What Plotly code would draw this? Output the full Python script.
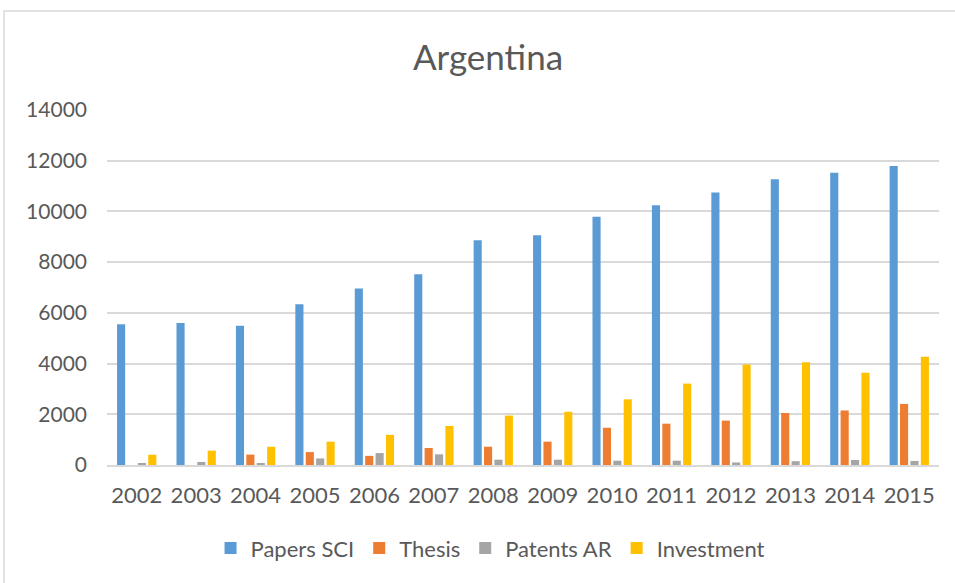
import plotly.graph_objects as go

# Argentina: scientific output, theses, patents and investment per year
years = ["2002", "2003", "2004", "2005", "2006", "2007", "2008",
         "2009", "2010", "2011", "2012", "2013", "2014", "2015"]
papers_sci = [5550, 5600, 5490, 6340, 6960, 7520, 8860,
              9060, 9790, 10240, 10750, 11270, 11530, 11790]
thesis = [0, 0, 410, 510, 360, 670, 720,
          920, 1470, 1630, 1750, 2050, 2150, 2410]
patents_ar = [65, 120, 65, 260, 470, 420, 210,
              210, 170, 170, 100, 150, 200, 160]
investment = [405, 565, 720, 920, 1190, 1540, 1950,
              2100, 2590, 3210, 3960, 4050, 3640, 4270]

series = [
    ("Papers SCI", papers_sci, "#5B9BD5"),
    ("Thesis", thesis, "#ED7D31"),
    ("Patents AR", patents_ar, "#A5A5A5"),
    ("Investment", investment, "#FFC000"),
]

FONT = "Lato"
TXT = "#595959"
GRID = "#D9D9D9"

fig = go.Figure()
for name, vals, color in series:
    fig.add_trace(go.Bar(
        x=years, y=vals, name=name,
        marker=dict(color=color, line=dict(width=0)),
    ))

fig.update_layout(
    width=955, height=583,
    margin=dict(l=107, r=16, t=110, b=118),
    paper_bgcolor="white", plot_bgcolor="white",
    barmode="group", bargap=0.30, bargroupgap=0.22,
    font=dict(family=FONT, color=TXT, size=20),
    title=dict(text="Argentina", x=0.511, xanchor="center",
               y=1 - 58 / 583, yanchor="middle",
               font=dict(family=FONT, size=35, color=TXT)),
    legend=dict(orientation="h", x=0.461, xanchor="center",
                y=-0.175, yanchor="top", itemwidth=30,
                font=dict(family=FONT, size=22, color=TXT)),
    xaxis=dict(showgrid=False, showline=True, linecolor=GRID, linewidth=1.5,
               ticks="", ticklabelstandoff=10,
               tickfont=dict(family=FONT, size=22, color=TXT)),
    yaxis=dict(range=[0, 14000], dtick=2000, tickformat="d",
               showgrid=True, gridcolor=GRID,
               gridwidth=1.5, zeroline=False, showline=False, ticks="",
               ticklabelstandoff=19,
               tickfont=dict(family=FONT, size=21, color=TXT)),
    shapes=[dict(type="rect", xref="paper", yref="paper",
                 x0=-0.1238, x1=1.1, y0=-0.4, y1=1.2789,
                 line=dict(color=GRID, width=1.5), layer="below")],
)

fig.write_html("out.html")
